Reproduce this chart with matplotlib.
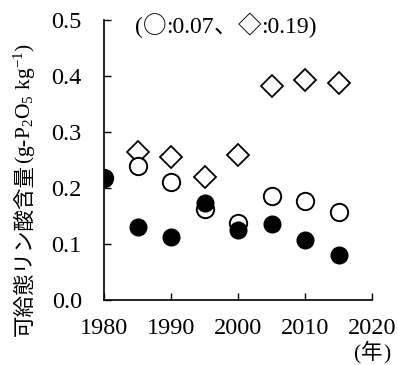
import matplotlib
matplotlib.use('Agg')
import matplotlib.pyplot as plt

plt.rcParams['font.family'] = ['Liberation Serif', 'Noto Sans CJK JP', 'DejaVu Sans']
plt.rcParams['mathtext.fontset'] = 'custom'
plt.rcParams['mathtext.rm'] = 'Liberation Serif'
plt.rcParams['mathtext.it'] = 'Liberation Serif'

SERIF = ['Liberation Serif', 'Noto Sans CJK JP']
CJK = ['Noto Sans CJK JP', 'Liberation Serif']

# 年
annees = [1980, 1985, 1990, 1995, 2000, 2005, 2010, 2015]
annees_losange = [1985, 1990, 1995, 2000, 2005, 2010, 2015]

# 可給態リン酸含量 (g-P2O5 kg-1)
noir = [0.217, 0.131, 0.112, 0.174, 0.125, 0.136, 0.107, 0.080]
cercle = [0.218, 0.239, 0.211, 0.162, 0.138, 0.186, 0.177, 0.157]
losange = [0.264, 0.256, 0.219, 0.259, 0.383, 0.392, 0.387]

W, H = 398, 365
fig = plt.figure(figsize=(W / 100, H / 100), dpi=100)
ax = fig.add_axes([104 / W, 1 - 300 / H, 268 / W, 280 / H])

ax.plot(annees_losange, losange, 'D', ms=11, mfc='white', mec='black', mew=1.3, ls='none')
ax.plot(annees, cercle, 'o', ms=12.5, mfc='white', mec='black', mew=1.4, ls='none')
ax.plot(annees, noir, 'o', ms=12, mfc='black', mec='black', ls='none')

ax.set_xlim(1980, 2020)
ax.set_ylim(0, 0.5)
ax.set_xticks([1980, 1990, 2000, 2010, 2020])
ax.set_yticks([0.0, 0.1, 0.2, 0.3, 0.4, 0.5])
ax.set_yticklabels(['0.0', '0.1', '0.2', '0.3', '0.4', '0.5'])
ax.tick_params(direction='in', length=5, width=1, labelsize=17.5)
ax.tick_params(axis='x', pad=13)
ax.tick_params(axis='y', pad=16)
ax.spines['top'].set_visible(False)
ax.spines['right'].set_visible(False)
ax.spines['left'].set_linewidth(1.2)
ax.spines['bottom'].set_linewidth(1.2)
for lab in ax.get_xticklabels() + ax.get_yticklabels():
    lab.set_clip_on(False)

renderer = fig.canvas.get_renderer()


def morceaux(x, y, pieces, size, rotation=0):
    # pieces of text in different fonts, one after the other (pixel coords, y from top)
    for txt, fam in pieces:
        t = fig.text(x / W, 1 - y / H, txt, fontsize=size, family=fam,
                     ha='left', va='baseline', rotation=rotation, rotation_mode='anchor')
        bb = t.get_window_extent(renderer)
        if rotation == 90:
            y -= bb.height
        else:
            x += bb.width


# ylabel
morceaux(31, 336, [('可給態リン酸含量', CJK),
                   ('(g-P$_2$O$_5$ kg$^{-1}$)', SERIF)], 15.5, rotation=90)

# note en haut
morceaux(135, 33, [('(', SERIF), ('○', CJK), (':0.07', SERIF), ('、', CJK),
                   ('◇', CJK), (':0.19)', SERIF)], 17)

# (年)
morceaux(354, 359, [('(', SERIF), ('年', CJK), (')', SERIF)], 15.5)

fig.savefig('out.png', dpi=100)
